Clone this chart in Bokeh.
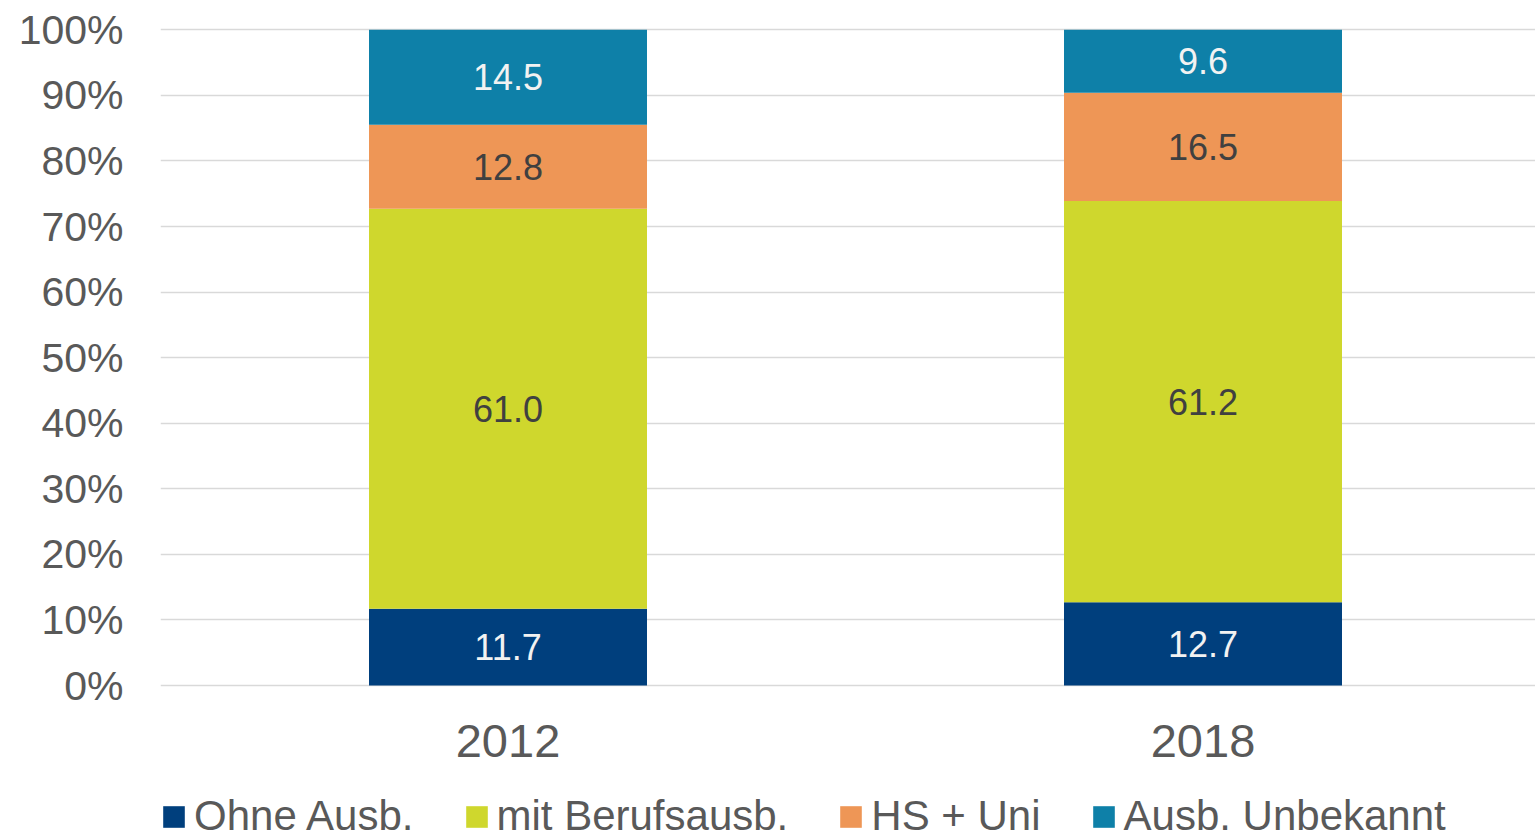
from bokeh.plotting import figure
from bokeh.models import ColumnDataSource, Range1d, FixedTicker, Legend, LegendItem
from bokeh.embed import file_html
from bokeh.resources import INLINE
from bokeh.core.properties import value

# ---- data ----
years = ["2012", "2018"]
series = ["Ohne Ausb.", "mit Berufsausb.", "HS + Uni", "Ausb. Unbekannt"]
ohne = [11.7, 12.7]
beruf = [61.0, 61.2]
hs_uni = [12.8, 16.5]
unbekannt = [14.5, 9.6]
y_ticks = [0, 10, 20, 30, 40, 50, 60, 70, 80, 90, 100]

# ---- styles ----
colors = ["#003F7D", "#CFD72D", "#EE9656", "#0E80A8"]
label_colors = ["#F2F2F2", "#404040", "#404040", "#F2F2F2"]
FONT = "Liberation Sans"
GREY = "#595959"

keys = ["ohne", "beruf", "hs_uni", "unbekannt"]
values = [ohne, beruf, hs_uni, unbekannt]
x = [i + 0.5 for i in range(len(years))]
src = ColumnDataSource(dict(x=x, ohne=ohne, beruf=beruf, hs_uni=hs_uni, unbekannt=unbekannt))

# frame reaches the bottom edge so the legend (drawn inside it) is not clipped
PX_PER_UNIT = 6.56
p = figure(frame_width=1375, frame_height=808,
           x_range=Range1d(0, 1375 / 695), y_range=Range1d(-149 / PX_PER_UNIT, 100.5),
           output_backend="svg", toolbar_location=None,
           min_border_left=160, min_border_top=26, min_border_right=0, min_border_bottom=0)
p.outline_line_color = None
p.background_fill_color = "white"
p.border_fill_color = "white"

renderers = p.vbar_stack(keys, x="x", width=0.4, color=colors, line_color=None, source=src)

# data labels
lx, ly, lt, lc = [], [], [], []
for j in range(len(years)):
    base = 0.0
    for k, vals in enumerate(values):
        v = vals[j]
        lx.append(x[j])
        ly.append(base + v / 2)
        lt.append(f"{v:.1f}")
        lc.append(label_colors[k])
        base += v
lsrc = ColumnDataSource(dict(x=lx, y=ly, t=lt, c=lc))
p.text(x="x", y="y", text="t", text_color="c", source=lsrc,
       text_font=value(FONT), text_font_size="36px",
       text_align="center", text_baseline="middle")

# axes
p.xgrid.grid_line_color = None
p.ygrid.grid_line_color = "#D9D9D9"
p.ygrid.grid_line_width = 1.5
p.yaxis.ticker = FixedTicker(ticks=y_ticks)
p.yaxis.major_label_overrides = {t: f"{t}%" for t in y_ticks}
p.xaxis.ticker = FixedTicker(ticks=x)
p.xaxis.major_label_overrides = {xx: yy for xx, yy in zip(x, years)}
p.xaxis.fixed_location = 0
for ax in (p.xaxis[0], p.yaxis[0]):
    ax.axis_line_color = None
    ax.major_tick_line_color = None
    ax.minor_tick_line_color = None
    ax.major_label_text_color = GREY
    ax.major_label_text_font = FONT
p.yaxis.major_label_text_font_size = "41px"
p.yaxis.major_label_standoff = 31
p.xaxis.major_label_text_font_size = "47px"
p.xaxis.major_label_standoff = 33

legend = Legend(items=[LegendItem(label=s, renderers=[r]) for s, r in zip(series, renderers)],
                orientation="horizontal", location=(0, -6),
                glyph_width=27, glyph_height=27, label_standoff=7, spacing=49,
                padding=0, margin=0, border_line_color=None, background_fill_alpha=0,
                label_text_font=FONT, label_text_font_size="42px", label_text_color=GREY)
p.add_layout(legend, "center")

open("out.html", "w").write(file_html(p, INLINE))
